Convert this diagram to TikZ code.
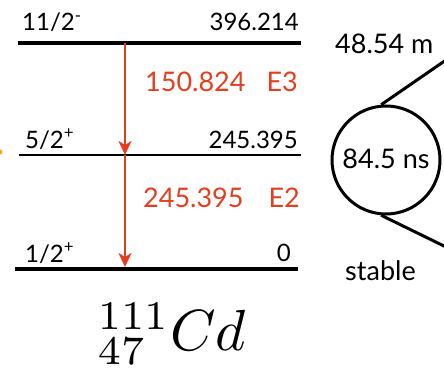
\documentclass[tikz,border=0pt]{standalone}
\usepackage{fontspec}
\setmainfont{Lato}
\usetikzlibrary{arrows.meta}
\definecolor{tred}{RGB}{228,62,30}
\definecolor{torange}{RGB}{245,170,30}
\tikzset{
  level/.style={line width=#1, line cap=butt},
  blk/.style={inner sep=0pt, font=\fontsize{24}{27}\selectfont},
  redtxt/.style={inner sep=0pt, text=tred, font=\fontsize{27}{30}\selectfont},
  rtxt/.style={inner sep=0pt, font=\fontsize{27}{30}\selectfont},
  trans/.style={draw=tred, line width=2pt, -{Stealth[length=14pt,width=13pt,inset=4pt]}},
  conn/.style={line width=3pt},
}
\begin{document}
\begin{tikzpicture}[x=1pt,y=-1pt]
\useasboundingbox (0,0) rectangle (444,369);
% level ends
\coordinate (l1a) at (18,43);  \coordinate (l1b) at (301,43);
\coordinate (l2a) at (19,155); \coordinate (l2b) at (301,155);
\coordinate (l3a) at (15,269); \coordinate (l3b) at (298,269);
\draw[level=4pt] (l1a) -- (l1b);
\draw[level=2.5pt] (l2a) -- (l2b);
\draw[level=4.5pt] (l3a) -- (l3b);
% small mark at left edge
\fill[torange] (0,152) circle (2.5pt);
% transitions
\coordinate (t1) at (125,43);
\coordinate (t2) at (125,155);
\coordinate (t3) at (125,267);
\draw[trans] (t1) -- (t2);
\draw[trans] (t2) -- (t3);
% labels
\node[blk, anchor=base west] (s1) at (22,31) {11/2\textsuperscript{-}};
\node[blk, anchor=base east] (e1) at (299,31) {396.214};
\node[redtxt, anchor=base west] (g1) at (145,92) {150.824};
\node[redtxt, anchor=base east] (m1) at (298,92) {E3};
\node[blk, anchor=base west] (s2) at (25,148) {5/2\textsuperscript{+}};
\node[blk, anchor=base east] (e2) at (298,148) {245.395};
\node[redtxt, anchor=base west] (g2) at (143,207) {245.395};
\node[redtxt, anchor=base east] (m2) at (300,207) {E2};
\node[blk, anchor=base west] (s3) at (25,262) {1/2\textsuperscript{+}};
\node[blk, anchor=base east] (e3) at (291,261) {0};
\node[scale=5.8] (nuc) at (172,334) {$^{111}_{47}Cd$};
% right side
\node[rtxt, anchor=base west] (hl1) at (335,54) {48.54 m};
\node[draw, circle, line width=3pt, minimum size=108pt, inner sep=0pt] (lt) at (386,160) {};
\node[rtxt, anchor=base] (lttxt) at (386,168) {84.5 ns};
\node[rtxt, anchor=base west] (hl3) at (345,280) {stable};
\coordinate (c1) at (446,60);
\coordinate (c2) at (446,247);
\draw[conn] (lt.95) -- (c1);
\draw[conn] (lt.265) -- (c2);
\end{tikzpicture}
\end{document}
